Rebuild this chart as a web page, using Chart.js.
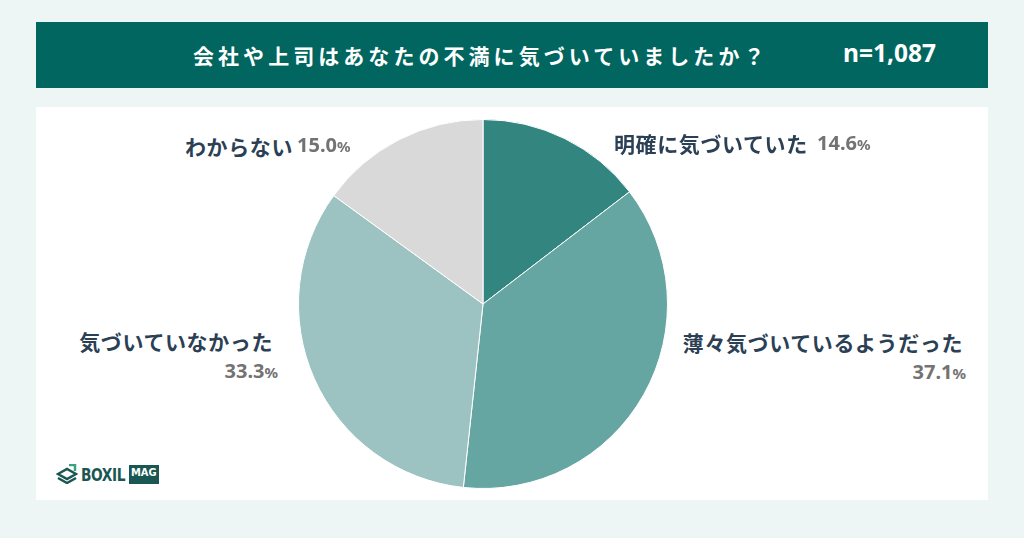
<!DOCTYPE html>
<html><head><meta charset="utf-8">
<script src="https://cdn.jsdelivr.net/npm/chart.js@4/dist/chart.umd.min.js"></script>
<style>
html,body{margin:0;padding:0;background:#eef6f5;}
#wrap{position:relative;width:1024px;height:538px;overflow:hidden;font-family:"Noto Sans CJK JP","Noto Sans",sans-serif;}
#header{position:absolute;left:36px;top:22px;width:952px;height:66px;background:#00665f;}
#title{position:absolute;left:193px;top:40px;color:#fff;font-weight:700;font-size:21px;letter-spacing:4.05px;line-height:30px;white-space:nowrap;}
#nval{position:absolute;left:843px;top:37px;color:#fff;font-weight:700;font-size:24.5px;line-height:32px;font-family:"Noto Sans",sans-serif;white-space:nowrap;}
#panel{position:absolute;left:36px;top:107px;width:952px;height:393px;background:#fff;}
#pie{position:absolute;left:298px;top:119px;width:370px;height:370px;}
.lbl{position:absolute;color:#2b3f55;font-weight:700;font-size:21px;letter-spacing:0.6px;line-height:28px;white-space:nowrap;}
.pct{position:absolute;color:#737373;font-weight:700;font-size:20px;line-height:26px;white-space:nowrap;font-family:"Noto Sans",sans-serif;}
.pct small{font-size:15px;font-weight:700;}
#logo{position:absolute;left:56px;top:462px;height:24px;display:flex;align-items:center;}
#logo .b{font-family:"DejaVu Sans Condensed","Liberation Sans Narrow",sans-serif;font-weight:700;font-size:18px;color:#1b5752;letter-spacing:-0.5px;margin-left:3px;transform:scaleX(0.85);transform-origin:left center;display:inline-block;width:46px;}
#logo .m{background:#1b5752;color:#fff;font-family:"DejaVu Sans Condensed",sans-serif;font-weight:700;font-size:11px;padding:2px 2px 6px 2px;margin-left:2px;line-height:11px;}
</style></head>
<body><div id="wrap">
<div id="header"></div>
<div id="title"></div>
<div id="nval"></div>
<div id="panel"></div>
<div id="pie"><canvas id="c" width="370" height="370"></canvas></div>
<div id="labels"></div>
<div id="logo">
<svg width="22" height="20" viewBox="0 0 22 20"><path d="M2 10 L11 5 L20 10 L11 15 Z" fill="none" stroke="#1b5752" stroke-width="2.5"/><path d="M2 14 L11 19 L20 14" fill="none" stroke="#1b5752" stroke-width="2.5"/><path d="M13 1 L19 1 L19 7" fill="none" stroke="#3aa27f" stroke-width="2.5"/></svg>
<span class="b">BOXIL</span><span class="m">MAG</span>
</div>
</div>
<script>
const titleText = "会社や上司はあなたの不満に気づいていましたか？";
const sampleText = "n=1,087";
const categories = ["明確に気づいていた","薄々気づいているようだった","気づいていなかった","わからない"];
const values = [14.6, 37.1, 33.3, 15.0];
const colors = ["#33857f","#66a6a2","#9cc3c2","#d9d9d9"];

document.getElementById('title').textContent = titleText;
document.getElementById('nval').textContent = sampleText;

const layout = [
  {lx:614, ly:129, align:'left', pInline:true, px:817, py:130},
  {lx:963, ly:328, align:'right', px:966, py:359},
  {lx:273, ly:327, align:'right', px:278, py:358},
  {lx:185, ly:132, align:'left', pInline:true, px:297, py:132}
];
const lab = document.getElementById('labels');
categories.forEach((c,i)=>{
  const L = layout[i];
  const d = document.createElement('div');
  d.className='lbl'; d.textContent=c;
  d.style.top=L.ly+'px';
  if(L.align==='left'){d.style.left=L.lx+'px';} else {d.style.right=(1024-L.lx)+'px';}
  lab.appendChild(d);
  const p = document.createElement('div');
  p.className='pct';
  p.innerHTML = values[i].toFixed(1)+'<small>%</small>';
  p.style.top=L.py+'px';
  if(L.pInline){p.style.left=L.px+'px';} else {p.style.right=(1024-L.px)+'px';}
  lab.appendChild(p);
});

new Chart(document.getElementById('c'), {
  type:'pie',
  data:{labels:categories, datasets:[{data:values, backgroundColor:colors, borderColor:'#ffffff', borderWidth:1}]},
  options:{responsive:false, animation:false, rotation:0,
    plugins:{legend:{display:false}, tooltip:{enabled:false}},
    layout:{padding:0}}
});
</script>
</body></html>
